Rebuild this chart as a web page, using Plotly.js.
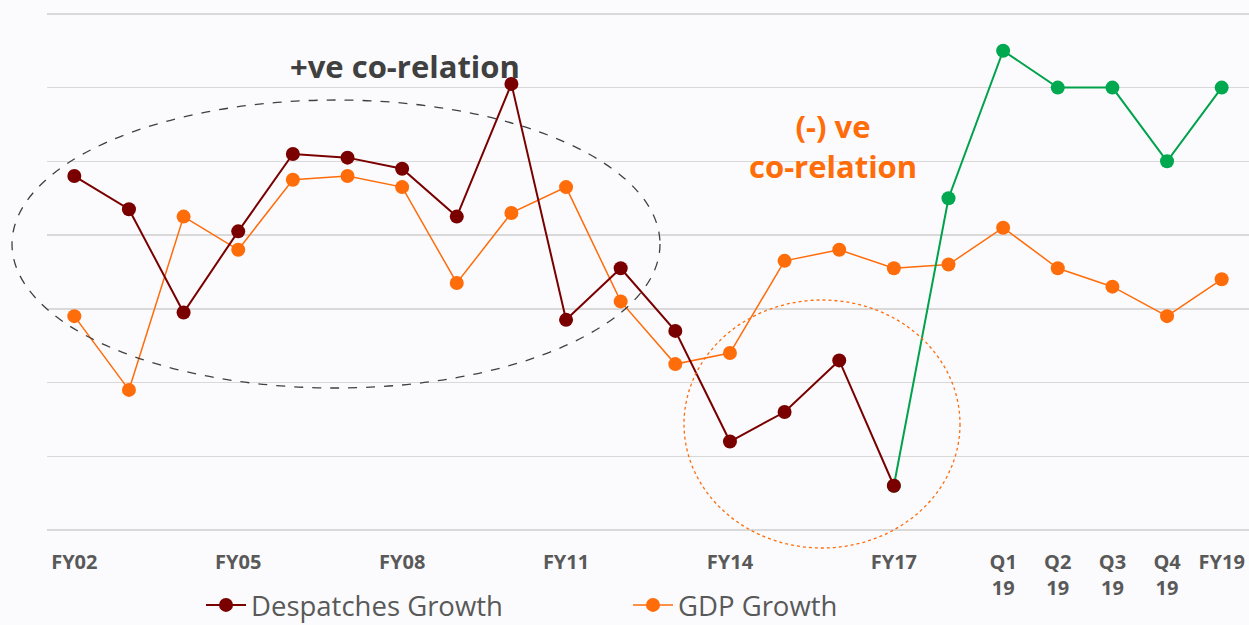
<!DOCTYPE html>
<html>
<head>
<meta charset="utf-8">
<script src="https://cdn.plot.ly/plotly-3.0.1.min.js"></script>
<style>html,body{margin:0;padding:0;background:#fbfbfd;}#chart{width:1249px;height:625px;}</style>
</head>
<body>
<div id="chart"></div>
<script>
// Categories (x positions are category indices)
const categories = ["FY02","FY03","FY04","FY05","FY06","FY07","FY08","FY09","FY10","FY11","FY12","FY13","FY14","FY15","FY16","FY17","FY18","Q1 19","Q2 19","Q3 19","Q4 19","FY19"];
const tickLabels = ["FY02","","","FY05","","","FY08","","","FY11","","","FY14","","","FY17","","Q1<br>19","Q2<br>19","Q3<br>19","Q4<br>19","FY19"];

// Despatches growth (dark red, FY02–FY17)
const despatches = [9.6, 8.7, 5.9, 8.1, 10.2, 10.1, 9.8, 8.5, 12.1, 5.7, 7.1, 5.4, 2.4, 3.2, 4.6, 1.2, null, null, null, null, null, null];
// Despatches growth continued (green, FY17 onwards)
const despatchesRecent = [null, null, null, null, null, null, null, null, null, null, null, null, null, null, null, 1.2, 9.0, 13.0, 12.0, 12.0, 10.0, 12.0];
// GDP growth (orange)
const gdp = [5.8, 3.8, 8.5, 7.6, 9.5, 9.6, 9.3, 6.7, 8.6, 9.3, 6.2, 4.5, 4.8, 7.3, 7.6, 7.1, 7.2, 8.2, 7.1, 6.6, 5.8, 6.8];

const xs = categories.map((c, i) => i);

const traces = [
  {
    x: xs, y: gdp, name: "GDP Growth", mode: "lines+markers",
    line: {color: "#ff6c0a", width: 1.5},
    marker: {color: "#ff6c0a", size: 14},
    legendrank: 2
  },
  {
    x: xs, y: despatchesRecent, name: "Despatches (recent)", mode: "lines+markers",
    line: {color: "#00a24b", width: 2},
    marker: {color: "#00a84f", size: 14},
    showlegend: false
  },
  {
    x: xs, y: despatches, name: "Despatches Growth", mode: "lines+markers",
    line: {color: "#7a0000", width: 2},
    marker: {color: "#7a0000", size: 14},
    legendrank: 1
  }
];

const H = 518; // plot height in px (for paper-ref placement)
const py = p => (530 - p) / H;
const px = p => (p - 47) / 1202;

const layout = {
  width: 1249, height: 625,
  margin: {l: 47, r: 0, t: 12, b: 95},
  paper_bgcolor: "#fbfbfd",
  plot_bgcolor: "#fbfbfd",
  showlegend: true,
  legend: {
    orientation: "h", xref: "container", yref: "container",
    x: 201/1249, xanchor: "left", y: 1 - 605/625, yanchor: "middle",
    font: {family: "Open Sans", size: 27.5, color: "#595959"},
    itemwidth: 40, entrywidth: 372, bgcolor: "rgba(0,0,0,0)", traceorder: "normal"
  },
  xaxis: {
    range: [-0.5, 21.5], tickmode: "array", tickvals: xs, ticktext: tickLabels,
    showgrid: false, zeroline: false, showline: false,
    ticks: "outside", ticklen: 14, tickcolor: "rgba(0,0,0,0)",
    tickfont: {family: "Open Sans", size: 20, color: "#595959", weight: "bold"},
    tickangle: 0
  },
  yaxis: {
    range: [0, 14.05], dtick: 2, showticklabels: false,
    gridcolor: "#d9d9d9", gridwidth: 1.5, zeroline: true, zerolinecolor: "#d9d9d9", zerolinewidth: 1.5,
    showline: false, fixedrange: true
  },
  shapes: [
    {type: "circle", xref: "paper", yref: "paper", x0: px(12), x1: px(660), y0: py(388), y1: py(100),
     line: {color: "#404040", width: 1.3, dash: "dash"}, layer: "above"},
    {type: "circle", xref: "paper", yref: "paper", x0: px(684), x1: px(960), y0: py(548), y1: py(300),
     line: {color: "#ff6c0a", width: 1.3, dash: "dot"}, layer: "above"}
  ],
  annotations: [
    {text: "<b>+ve co-relation</b>", xref: "paper", yref: "paper", x: px(405), y: py(66),
     xanchor: "center", yanchor: "middle",
     showarrow: false, font: {family: "Open Sans", size: 31, color: "#404040"}},
    {text: "<b>(-) ve<br>co-relation</b>", xref: "paper", yref: "paper", x: px(833), y: py(146),
     xanchor: "center", yanchor: "middle",
     showarrow: false, font: {family: "Open Sans", size: 31, color: "#ff6c0a"}}
  ]
};

Plotly.newPlot("chart", traces, layout, {displayModeBar: false, staticPlot: true});
</script>
</body>
</html>
